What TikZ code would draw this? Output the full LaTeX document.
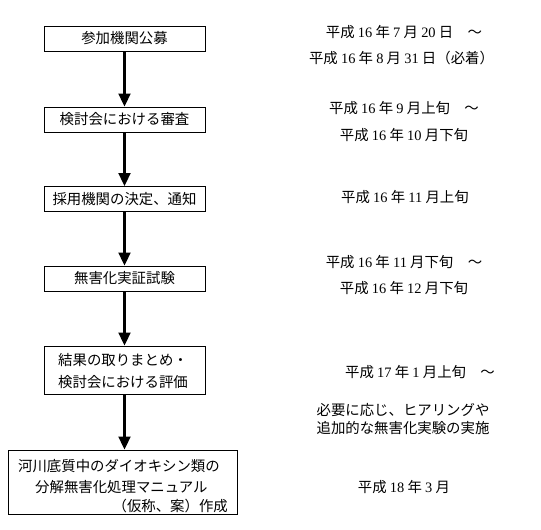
\documentclass[tikz,border=0pt]{standalone}
\usepackage{fontspec}
\setmainfont{Noto Sans CJK JP}
\newfontfamily\numf{Liberation Serif}
\usetikzlibrary{arrows.meta}
\newcommand\nm[1]{{\numf #1}}
\begin{document}
\begin{tikzpicture}[x=1pt,y=-1pt,
  every node/.style={font=\fontsize{14.4pt}{18pt}\selectfont, inner sep=0pt},
  stepbox/.style={draw, line width=1pt, minimum width=161pt, minimum height=25pt},
  flow/.style={line width=2.3pt, -{Triangle[length=13pt,width=12pt]}}]
\useasboundingbox (0,0) rectangle (541,530);
% boxes
\node[stepbox] (b1) at (124.5,38.5) {参加機関公募};
\node[stepbox] (b2) at (124.5,119.5) {検討会における審査};
\node[stepbox] (b3) at (124.5,199) {採用機関の決定、通知};
\node[stepbox] (b4) at (124.5,278.5) {無害化実証試験};
\node[stepbox, minimum height=48pt] (b5) at (124.5,370) {};
\node[anchor=west] (b5a) at (58,360) {結果の取りまとめ・};
\node[anchor=west] (b5b) at (58,382) {検討会における評価};
\node[draw, line width=1pt, minimum width=229pt, minimum height=64pt] (b6) at (122.5,482) {};
\node[anchor=west] (b6a) at (18,466) {河川底質中のダイオキシン類の};
\node[anchor=west] (b6b) at (35,487) {分解無害化処理マニュアル};
\node[anchor=east] (b6c) at (228,506) {（仮称、案）作成};
% arrows
\draw[flow] (b1) -- (b2);
\draw[flow] (b2) -- (b3);
\draw[flow] (b3) -- (b4);
\draw[flow] (b4.south) -- (b4.south |- b5.north);
\draw[flow] (b5.south) -- (b5.south |- b6.north);
% schedule
\node (t1) at (404,32) {平成 \nm{16} 年 \nm{7} 月 \nm{20} 日\quad ～};
\node (t2) at (401.5,58) {平成 \nm{16} 年 \nm{8} 月 \nm{31} 日（必着）};
\node (t3) at (404,108) {平成 \nm{16} 年 \nm{9} 月上旬\quad ～};
\node (t4) at (404,135) {平成 \nm{16} 年 \nm{10} 月下旬};
\node (t5) at (405,197) {平成 \nm{16} 年 \nm{11} 月上旬};
\node (t6) at (404,262) {平成 \nm{16} 年 \nm{11} 月下旬\quad ～};
\node (t7) at (404,288) {平成 \nm{16} 年 \nm{12} 月下旬};
\node (t8) at (420,372) {平成 \nm{17} 年 \nm{1} 月上旬\quad ～};
\node (t9) at (403,410) {必要に応じ、ヒアリングや};
\node (t10) at (403,428) {追加的な無害化実験の実施};
\node (t11) at (404,487) {平成 \nm{18} 年 \nm{3} 月};
\end{tikzpicture}
\end{document}
